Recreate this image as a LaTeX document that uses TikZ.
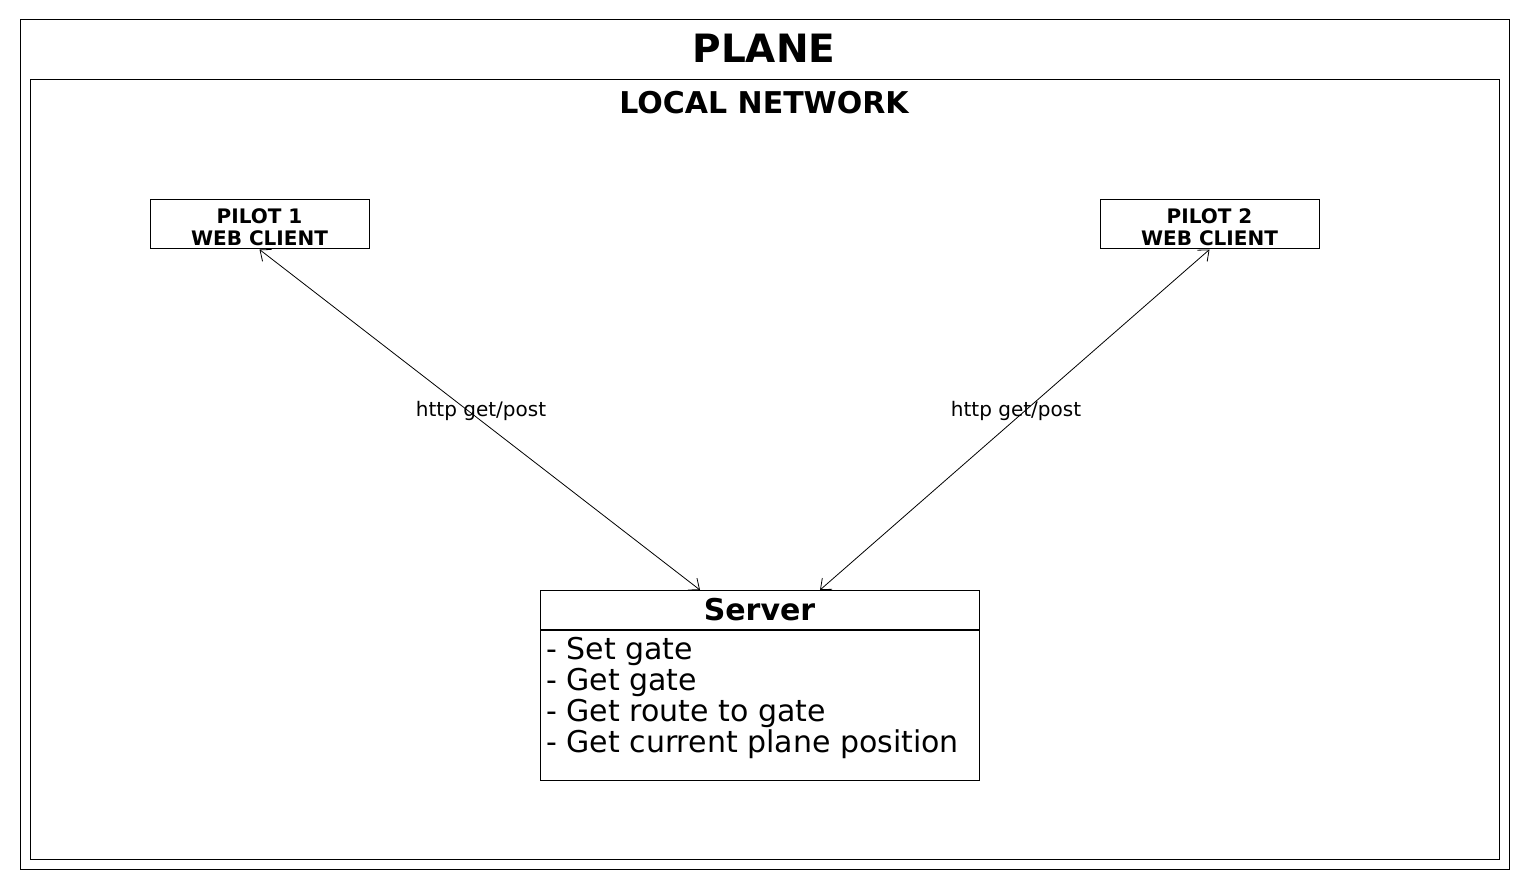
\documentclass[tikz,border=0pt]{standalone}
\usepackage{fontspec}
\setmainfont{DejaVu Sans}
\usetikzlibrary{arrows.meta}
\begin{document}
\begin{tikzpicture}[x=1pt,y=-1pt,
  frame/.style={draw=black,line width=1pt,fill=none},
  pilotbox/.style={draw=black,line width=1pt,minimum width=219pt,minimum height=49pt,inner sep=0pt,align=center,font=\fontsize{20}{22}\selectfont\bfseries},
  link/.style={line width=0.8pt,{Straight Barb[length=9pt,width=15pt,line width=0.8pt]}-{Straight Barb[length=9pt,width=15pt,line width=0.8pt]}},
  lbl/.style={font=\fontsize{20}{22}\selectfont,inner sep=0pt}
]
\useasboundingbox (0,0) rectangle (1530,890);
\fill[white] (0,0) rectangle (1530,890);
% frames
\draw[frame] (20,20) rectangle (1509,869);
\draw[frame] (30,80) rectangle (1499,859);
\node[font=\fontsize{39}{44}\selectfont\bfseries,inner sep=0pt] (plane) at (764,48) {PLANE};
\node[font=\fontsize{30}{34}\selectfont\bfseries,inner sep=0pt] (lan) at (764,103) {LOCAL NETWORK};
% pilots
\node[pilotbox] (p1) at (259.5,224.5) {};
\node[pilotbox] (p2) at (1209.5,224.5) {};
\node[align=center,inner sep=0pt,font=\fontsize{20}{22}\selectfont\bfseries] (p1t) at (259.5,227.5) {PILOT 1\\WEB CLIENT};
\node[align=center,inner sep=0pt,font=\fontsize{20}{22}\selectfont\bfseries] (p2t) at (1209.5,227.5) {PILOT 2\\WEB CLIENT};
% server
\node[draw=black,line width=1pt,minimum width=439pt,minimum height=39pt,inner sep=0pt,font=\fontsize{30}{34}\selectfont\bfseries] (srvhead) at (759.5,609.5) {Server};
\node[draw=black,line width=1pt,minimum width=439pt,minimum height=150pt,inner sep=0pt,anchor=north] (srvbody) at (srvhead.south) {};
\node[anchor=north west,align=left,inner sep=0pt,font=\fontsize{30}{31}\selectfont] (srvtext) at (546,637) {- Set gate\\- Get gate\\- Get route to gate\\- Get current plane position};
% connectors
\coordinate (s1) at (700,590);
\coordinate (s2) at (820,590);
\draw[link] (p1.south) -- (s1);
\draw[link] (p2.south) -- (s2);
\node[lbl] (l1) at (481,411) {http get/post};
\node[lbl] (l2) at (1016,411) {http get/post};
\end{tikzpicture}
\end{document}
